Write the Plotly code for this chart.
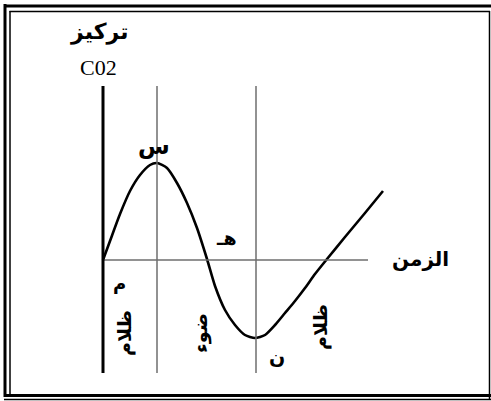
import plotly.graph_objects as go

# CO2 concentration curve (time from origin, concentration above baseline)
time = [0, 7, 17, 27, 37, 47, 54, 64, 74, 84, 94, 104, 112, 122, 132, 142, 152,
        162, 172, 182, 192, 202, 212, 224, 242, 262, 280]
co2 = [0, 19, 46, 69, 85, 95, 97, 92, 77, 57, 32, 1, -26, -50, -65, -75, -78,
       -75, -65, -53, -41, -28, -14, 1, 23, 47, 69]

# boundaries between dark / light / dark periods
phase_bounds = [54, 153]
phase_labels = ['ظلام', 'ضوء', 'ظلام']

point_labels = ['م', 'س', 'هـ', 'ن']

W, H = 491, 401
X0, Y0 = 103, 260  # pixel position of the origin


def px(x):
    return x - X0


def py(y):
    return Y0 - y


fig = go.Figure()

fig.add_trace(go.Scatter(
    x=time, y=co2,
    mode='lines',
    line=dict(color='black', width=2.6, shape='spline', smoothing=0.6),
    hoverinfo='skip',
    showlegend=False
))

shapes = []
# time axis (thin gray)
shapes.append(dict(type='line', xref='x', yref='y', x0=0, x1=px(368), y0=0, y1=0,
                   line=dict(color='#6e6e6e', width=1.5)))
# phase boundaries
for b in phase_bounds:
    shapes.append(dict(type='line', xref='x', yref='y', x0=b, x1=b, y0=py(86), y1=py(373),
                       line=dict(color='#6e6e6e', width=1.5)))
# concentration axis (thick black)
shapes.append(dict(type='line', xref='x', yref='y', x0=0, x1=0, y0=py(86), y1=py(373),
                   line=dict(color='black', width=3)))


# double frame around the picture
def hline(y, x0, x1, w):
    return dict(type='line', xref='paper', yref='paper', x0=x0 / W, x1=x1 / W,
                y0=1 - y / H, y1=1 - y / H, line=dict(color='black', width=w))


def vline(x, y0, y1, w):
    return dict(type='line', xref='paper', yref='paper', x0=x / W, x1=x / W,
                y0=1 - y0 / H, y1=1 - y1 / H, line=dict(color='black', width=w))


shapes += [
    hline(6, 4, 491, 3), hline(11.5, 9.5, 490, 1.5),
    vline(5, 4, 397, 3), vline(10, 11, 395, 1.5),
    hline(395.5, 4, 491, 3), hline(399.5, 4, 491, 1.5),
    vline(489.5, 11, 400, 1.5),
]

AR = 'DejaVu Sans'
SERIF = 'Liberation Serif, Times New Roman, serif'
annotations = [
    dict(x=px(99), y=py(32), text='<b>تركيز</b>', font=dict(family=AR, size=22)),
    dict(x=px(98), y=py(67), text='C02', font=dict(family=SERIF, size=22)),
    dict(x=px(119), y=py(283), text='<b>%s</b>' % point_labels[0], font=dict(family=AR, size=18)),
    dict(x=px(154), y=py(146), text='<b>%s</b>' % point_labels[1], font=dict(family=AR, size=23)),
    dict(x=px(226), y=py(238), text='<b>%s</b>' % point_labels[2], font=dict(family=AR, size=19)),
    dict(x=px(277), y=py(357), text='<b>%s</b>' % point_labels[3], font=dict(family=AR, size=19)),
    dict(x=px(420), y=py(259), text='<b>الزمن</b>', font=dict(family=AR, size=20)),
    dict(x=px(124), y=py(333), text='<b>%s</b>' % phase_labels[0], textangle=-90, font=dict(family=AR, size=19)),
    dict(x=px(200), y=py(333), text='<b>%s</b>' % phase_labels[1], textangle=-90, font=dict(family=AR, size=19)),
    dict(x=px(320), y=py(327), text='<b>%s</b>' % phase_labels[2], textangle=-90, font=dict(family=AR, size=19)),
]
for a in annotations:
    a.update(xref='x', yref='y', showarrow=False, font=dict(a['font'], color='black'))

fig.update_layout(
    width=W, height=H,
    margin=dict(l=0, r=0, t=0, b=0),
    paper_bgcolor='white', plot_bgcolor='white',
    xaxis=dict(range=[-X0, W - X0], visible=False, fixedrange=True),
    yaxis=dict(range=[Y0 - H, Y0], visible=False, fixedrange=True),
    shapes=shapes,
    annotations=annotations,
    showlegend=False
)

fig.write_html("out.html", config={"displayModeBar": False, "staticPlot": True},
               post_script="document.body.style.margin='0';document.body.style.overflow='hidden';")
